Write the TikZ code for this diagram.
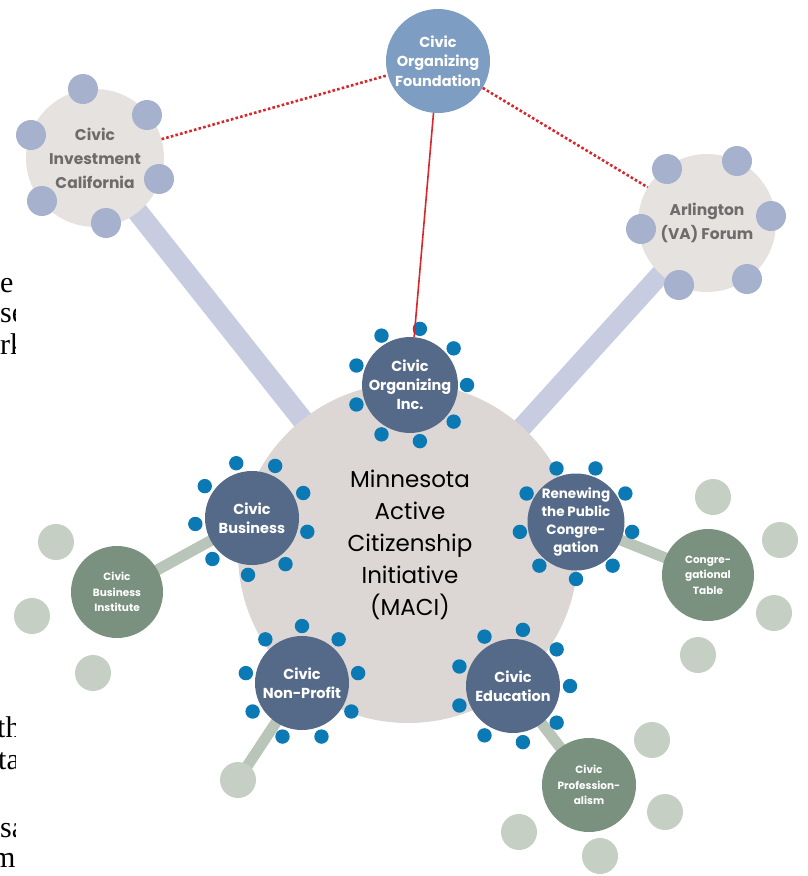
\documentclass[tikz,border=0pt]{standalone}
\usepackage{fontspec}
\setmainfont{Poppins}
\newfontfamily\serifcut{Liberation Serif}
\definecolor{mainfill}{HTML}{DCD6D5}
\definecolor{darknode}{HTML}{546A88}
\definecolor{dotc}{HTML}{0B79B3}
\definecolor{cofc}{HTML}{7E9DC2}
\definecolor{lightnode}{HTML}{E6E2DF}
\definecolor{lighttext}{HTML}{6F6B6B}
\definecolor{lightsat}{HTML}{A5B1CD}
\definecolor{lavbar}{HTML}{C8CCE1}
\definecolor{greennode}{HTML}{7A917F}
\definecolor{greensat}{HTML}{C5CFC4}
\definecolor{greenbar}{HTML}{B9C5B9}
\definecolor{redc}{HTML}{D9262B}
\pgfdeclarelayer{bg}
\pgfsetlayers{bg,main}
\begin{document}
\begin{tikzpicture}[x=1pt,y=-1pt,
  mainc/.style={circle,fill=mainfill,minimum size=340pt,inner sep=0pt,align=center,
    font=\fontsize{23}{32}\selectfont},
  darkn/.style={circle,fill=darknode,minimum size=94pt,inner sep=0pt,text=white,align=center,
    font=\bfseries\fontsize{14.5}{19}\selectfont},
  cofn/.style={circle,fill=cofc,minimum size=104pt,inner sep=0pt,text=white,align=center,
    font=\bfseries\fontsize{14.5}{19.5}\selectfont},
  lightn/.style={circle,fill=lightnode,minimum size=138pt,inner sep=0pt,text=lighttext,align=center,
    font=\bfseries\fontsize{15.5}{24}\selectfont},
  greenn/.style={circle,fill=greennode,minimum size=92pt,inner sep=0pt,text=white,align=center,
    font=\bfseries\fontsize{10.5}{15.5}\selectfont},
  lsat/.style={fill=lightsat},
  gsat/.style={fill=greensat},
  lavline/.style={draw=lavbar,line width=21pt},
  greenline/.style={draw=greenbar,line width=11pt},
  redsolid/.style={draw=redc,line width=1.6pt},
  reddot/.style={draw=redc,line width=2.6pt,dash pattern=on 2.6pt off 2.2pt},
  cuttext/.style={font=\serifcut\fontsize{30}{31}\selectfont,anchor=base west,inner sep=0pt}
]
\useasboundingbox (0,0) rectangle (808,876);

% cut-off text at the left edge
\begin{scope}
  \clip (0,250) rectangle (15,370);
  \node[cuttext] (t1) at (0,292) {e};
  \node[cuttext] (t2) at (0,322) {se};
  \node[cuttext] (t3) at (0,354) {rk};
\end{scope}
\begin{scope}
  \clip (0,700) rectangle (15,876);
  \node[cuttext] (t4) at (-3,737) {th};
  \node[cuttext] (t5) at (-2,769) {ta};
  \node[cuttext] (t6) at (0,837) {sa};
  \node[cuttext] (t7) at (-8,867) {m};
\end{scope}

% main nodes
\node[mainc] (maci) at (408,553) {};
\node[align=center,font=\fontsize{23}{32}\selectfont] (macitext) at (410,545)
  {Minnesota\\Active\\Citizenship\\Initiative\\(MACI)};

\node[lightn] (cic) at (95,158) {Civic\\Investment\\California};
\node[lightn] (arl) at (707,223) {Arlington\\(VA) Forum};
\node[cofn] (cof) at (438,61) {Civic\\Organizing\\Foundation};

\node[greenn] (cbi) at (117,592) {Civic\\Business\\Institute};
\node[greenn] (ctab) at (708,575) {Congre-\\gational\\Table};
\node[greenn,minimum size=94pt] (cpro) at (589,785) {Civic\\Profession-\\alism};
\fill[gsat] (238,780) circle (18);
\coordinate (npsat) at (238,780);

\node[darkn] (coi) at (410,385) {Civic\\Organizing\\Inc.};
\node[darkn] (cbus) at (252,518) {Civic\\Business};
\node[darkn,font=\bfseries\fontsize{13.5}{18}\selectfont] (rpc) at (576,522) {Renewing\\the Public\\Congre-\\gation};
\node[darkn] (cnp) at (302,683) {Civic\\Non-Profit};
\node[darkn] (ced) at (513,686) {Civic\\Education};

% connectors behind
\begin{pgfonlayer}{bg}
  \draw[lavline] (cic.center) -- (maci.center);
  \draw[lavline,line width=20pt] (arl.center) -- (maci.center);
  \draw[greenline] (cbus.center) -- (cbi.center);
  \draw[greenline] (rpc.center) -- (ctab.center);
  \draw[greenline] (cnp.center) -- (npsat);
  \draw[greenline] (ced.center) -- (cpro.center);
\end{pgfonlayer}

% satellites of light nodes
\foreach \p in {(83,89),(147,115),(31,135),(159,179),(42,201),(106,223)}
  \fill[lsat] \p circle (15);
\foreach \p in {(667,169),(737,161),(771,216),(747,279),(679,285),(641,229)}
  \fill[lsat] \p circle (15);

% satellites of green nodes
\foreach \p in {(56,542),(32,616),(93,673)}
  \fill[gsat] \p circle (18);
\foreach \p in {(713,497),(780,540),(774,613),(698,655)}
  \fill[gsat] \p circle (18);
\foreach \p in {(652,740),(665,812),(600,856),(519,832)}
  \fill[gsat] \p circle (18);

% blue dots around dark nodes
\foreach \n/\s in {coi/80,cbus/106,rpc/110,cnp/90,ced/80}
  \foreach \k in {0,...,8}
    \fill[dotc] (\n.center) ++({-(\s-40*\k)}:57) circle (7.2);

% red lines
\draw[redsolid] (cof) -- (coi);
\draw[reddot] (cic) -- (cof);
\draw[reddot] (cof) -- (arl);
\end{tikzpicture}
\end{document}
